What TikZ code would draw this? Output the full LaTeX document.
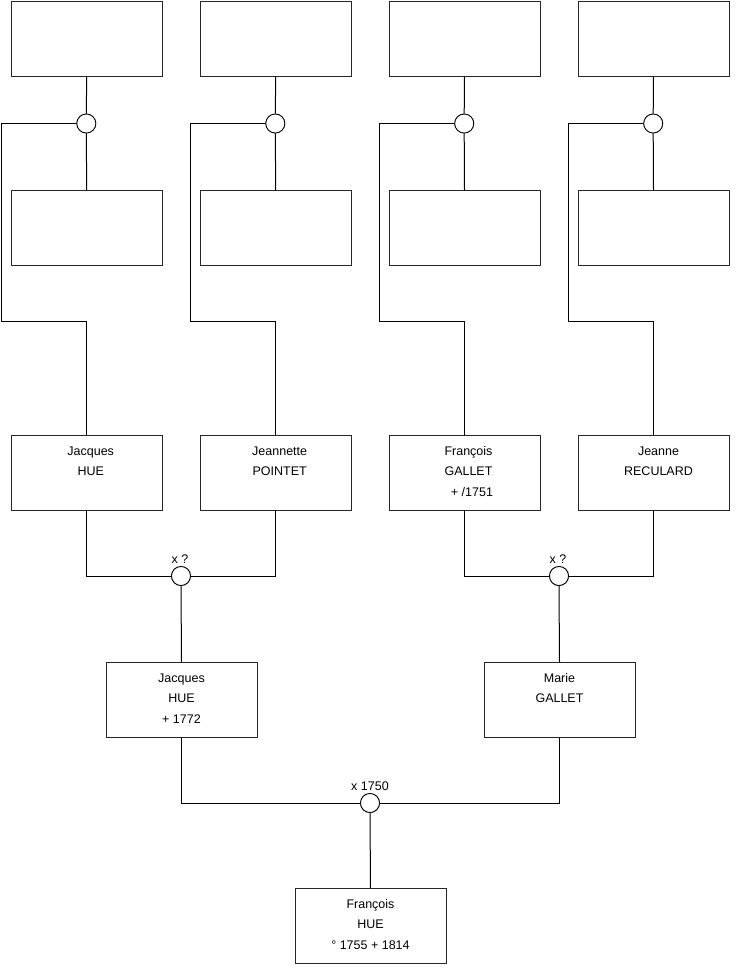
\documentclass[tikz,border=0pt]{standalone}
\usepackage{fontspec}
\setmainfont{Liberation Sans}
\begin{document}
\begin{tikzpicture}[x=1pt,y=-1pt,
  pbox/.style={draw=black!85, line width=1pt, minimum width=151pt, minimum height=75pt, inner sep=0pt, anchor=north west, fill=white},
  ptext/.style={anchor=north, inner sep=0pt, align=center, font=\fontsize{12.5}{20.5}\selectfont},
  wed/.style={draw, circle, line width=0.8pt, minimum size=19pt, inner sep=0pt, fill=white},
  wlabel/.style={anchor=base, inner sep=0pt, font=\fontsize{12.5}{15}\selectfont},
  link/.style={draw=black, line width=1pt}]
\useasboundingbox (0,0) rectangle (740,975);
% row 1 (unknown great-grandparents)
\node[pbox] (a1) at (10.7,0.8) {};
\node[pbox] (a2) at (199.7,0.8) {};
\node[pbox] (a3) at (388.5,0.8) {};
\node[pbox] (a4) at (577.5,0.8) {};
% row 2
\node[pbox] (b1) at (10.7,190) {};
\node[pbox] (b2) at (199.7,190) {};
\node[pbox] (b3) at (388.5,190) {};
\node[pbox] (b4) at (577.5,190) {};
% row 3
\node[pbox] (p1) at (10.7,435) {};
\node[pbox] (p2) at (199.7,435) {};
\node[pbox] (p3) at (388.5,435) {};
\node[pbox] (p4) at (577.5,435) {};
% row 4
\node[pbox] (g1) at (105.5,662) {};
\node[pbox] (g2) at (483.5,662) {};
% row 5
\node[pbox] (f) at (294.5,888) {};
% marriage circles row 1
\node[wed] (c1) at (86.3,123.5) {};
\node[wed] (c2) at (275.3,123.5) {};
\node[wed] (c3) at (464.2,123.5) {};
\node[wed] (c4) at (653.2,123.5) {};
% bends
\coordinate (k1) at (1.7,321);
\coordinate (k2) at (190.5,321);
\coordinate (k3) at (379.4,321);
\coordinate (k4) at (568.7,321);
% marriage circles lower
\node[wed] (m1) at (181,576) {};
\node[wed] (m2) at (559,576) {};
\node[wed] (m3) at (370,803) {};
% connectors
\foreach \i in {1,2,3,4}{
  \draw[link] (a\i.south) -- (c\i.north);
  \draw[link] (c\i.south) -- (b\i.north);
  \draw[link] (c\i.west) -| (k\i) -| (p\i.north);
}
\draw[link] (p1.south) |- (m1.west);
\draw[link] (p2.south) |- (m1.east);
\draw[link] (m1.south) -- (g1.north);
\draw[link] (p3.south) |- (m2.west);
\draw[link] (p4.south) |- (m2.east);
\draw[link] (m2.south) -- (g2.north);
\draw[link] (g1.south) |- (m3.west);
\draw[link] (g2.south) |- (m3.east);
\draw[link] (m3.south) -- (f.north);
% redraw circles on top
\node[wed] at (m1) {};
\node[wed] at (m2) {};
\node[wed] at (m3) {};
\foreach \i in {1,2,3,4}{ \node[wed] at (c\i) {}; }
% texts
\node[ptext] (t1) at ([xshift=4pt,yshift=-10pt]p1.north) {\rule{0pt}{10pt}Jacques\\HUE};
\node[ptext] (t2) at ([xshift=4pt,yshift=-10pt]p2.north) {\rule{0pt}{10pt}Jeannette\\POINTET};
\node[ptext] (t3) at ([xshift=4pt,yshift=-10pt]p3.north) {\rule{0pt}{10pt}François\\GALLET\\\ \ + /1751};
\node[ptext] (t4) at ([xshift=5pt,yshift=-10pt]p4.north) {\rule{0pt}{10pt}Jeanne\\RECULARD};
\node[ptext] (t5) at ([yshift=-10pt]g1.north) {\rule{0pt}{10pt}Jacques\\HUE\\+ 1772};
\node[ptext] (t6) at ([yshift=-10pt]g2.north) {\rule{0pt}{10pt}Marie\\GALLET};
\node[ptext] (t7) at ([yshift=-10pt]f.north) {\rule{0pt}{10pt}François\\HUE\\° 1755 + 1814};
\node[wlabel] (l1) at ([xshift=-1pt,yshift=13pt]m1.center) {x ?};
\node[wlabel] (l2) at ([xshift=-1pt,yshift=13pt]m2.center) {x ?};
\node[wlabel] (l3) at ([yshift=13pt]m3.center) {x 1750};
\end{tikzpicture}
\end{document}
